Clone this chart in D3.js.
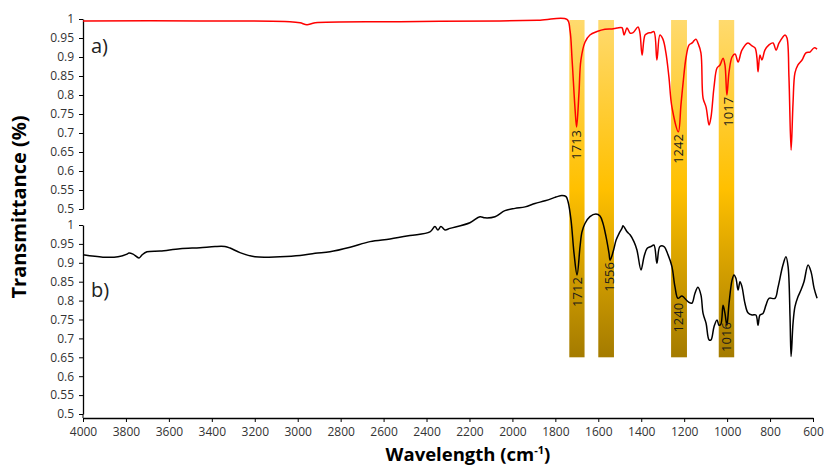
<!DOCTYPE html>
<html>
<head>
<meta charset="utf-8">
<script src="https://cdn.jsdelivr.net/npm/d3@7"></script>
<style>
  body { margin: 0; background: #fff; }
  svg { display: block; }
  .tick text { font-family: "Open Sans", sans-serif; font-size: 12px; fill: #333; }
</style>
</head>
<body>
<svg id="chart" width="826" height="472"></svg>
<script>
// spectrum a) (red) - wavenumber (cm-1) and transmittance
const wnA = [4000,3455,3036,2989,2957,2919,2524,2058,1871,1746,1732,1722,1708,1701,1690,1681,1662,1639,1606,1569,1536,1513,1490,1480,1466,1452,1438,1415,1406,1396,1382,1368,1355,1341,1327,1313,1299,1285,1271,1257,1227,1215,1205,1191,1177,1163,1154,1145,1136,1122,1112,1098,1084,1075,1061,1047,1033,1019,1010,1001,991,977,963,949,931,903,884,870,861,856,847,838,824,805,786,772,758,730,721,712,702,693,684,670,651,633,614,595,581];
const tA = [0.995,0.995,0.993,0.99,0.985,0.99,0.993,0.995,0.997,0.999,0.971,0.892,0.761,0.716,0.805,0.892,0.939,0.958,0.967,0.973,0.974,0.976,0.977,0.958,0.976,0.963,0.964,0.979,0.963,0.905,0.958,0.963,0.964,0.967,0.892,0.958,0.947,0.911,0.847,0.768,0.703,0.774,0.832,0.9,0.932,0.937,0.943,0.947,0.937,0.911,0.792,0.768,0.721,0.742,0.821,0.871,0.879,0.897,0.879,0.8,0.861,0.9,0.908,0.887,0.918,0.937,0.929,0.924,0.897,0.861,0.905,0.892,0.918,0.932,0.937,0.918,0.937,0.958,0.95,0.847,0.655,0.779,0.858,0.879,0.892,0.911,0.913,0.924,0.921];

// spectrum b) (black)
const wnB = [4000,3907,3837,3795,3786,3767,3739,3725,3702,3641,3548,3455,3385,3339,3315,3269,3199,3083,2989,2919,2850,2756,2663,2570,2477,2384,2361,2347,2333,2314,2291,2198,2151,2128,2081,2035,1988,1941,1895,1848,1802,1792,1769,1750,1741,1727,1713,1699,1685,1676,1662,1639,1611,1592,1578,1564,1550,1545,1531,1517,1503,1490,1485,1466,1452,1434,1420,1401,1387,1373,1355,1341,1327,1313,1294,1275,1257,1243,1229,1210,1182,1164,1150,1136,1122,1112,1098,1084,1075,1061,1047,1038,1029,1019,1010,1001,991,977,968,959,949,940,931,917,903,884,866,856,847,833,819,805,777,763,740,726,716,707,702,693,684,670,656,642,623,609,595,581];
const tB = [0.921,0.915,0.916,0.923,0.926,0.923,0.913,0.921,0.929,0.931,0.937,0.94,0.943,0.943,0.939,0.927,0.916,0.916,0.919,0.925,0.929,0.941,0.956,0.963,0.972,0.982,0.996,0.987,0.996,0.987,0.991,1.006,1.022,1.019,1.022,1.038,1.044,1.048,1.057,1.064,1.073,1.075,1.078,1.075,1.062,1.013,0.925,0.868,0.943,0.982,1.004,1.022,1.029,1.024,1.004,0.969,0.925,0.907,0.929,0.96,0.978,0.991,0.998,0.982,0.974,0.956,0.934,0.881,0.916,0.938,0.943,0.947,0.899,0.943,0.943,0.921,0.89,0.837,0.806,0.812,0.797,0.793,0.819,0.835,0.815,0.766,0.74,0.696,0.696,0.731,0.749,0.735,0.738,0.788,0.766,0.735,0.793,0.854,0.868,0.859,0.828,0.85,0.837,0.793,0.768,0.762,0.762,0.735,0.762,0.766,0.788,0.806,0.806,0.835,0.894,0.916,0.89,0.757,0.652,0.74,0.784,0.81,0.828,0.85,0.894,0.876,0.833,0.806];

// highlighted bands [from, to] in cm-1
const bands = [[1735,1664],[1600,1527],[1261,1187],[1039,967]];

// peak labels: text, wavenumber, transmittance where the label starts
const peaksA = ["1713","1242","1017"];
const peaksAWn = [1704,1229,996];
const peaksAT = [0.708,0.697,0.795];
const peaksB = ["1712","1556","1240","1016"];
const peaksBWn = [1695,1546,1229,1001];
const peaksBT = [0.862,0.902,0.794,0.743];

const xTicks = d3.range(4000, 599, -200);
const yTicks = d3.range(0.5, 1.001, 0.05);

const svg = d3.select("#chart");

const x = d3.scaleLinear().domain([4000, 600]).range([83, 813]);
const yTop = d3.scaleLinear().domain([0.5, 1]).range([209, 19]);
const yBot = d3.scaleLinear().domain([0.5, 1]).range([414, 225]);

/* BAND GRADIENT */
const defs = svg.append("defs");
const grad = defs.append("linearGradient")
  .attr("id", "bandGrad")
  .attr("x1", 0).attr("y1", 0).attr("x2", 0).attr("y2", 1);
grad.append("stop").attr("offset", "0%").attr("stop-color", "#ffda6e");
grad.append("stop").attr("offset", "50%").attr("stop-color", "#ffc000");
grad.append("stop").attr("offset", "100%").attr("stop-color", "#a47b00");

svg.append("g").selectAll("rect")
  .data(bands)
  .join("rect")
  .attr("x", d => x(d[0]))
  .attr("width", d => x(d[1]) - x(d[0]))
  .attr("y", yTop(1) + 1)
  .attr("height", yBot(0.65) - yTop(1) - 1)
  .attr("fill", "url(#bandGrad)");

/* AXES */
svg.append("g")
  .attr("transform", "translate(83,0)")
  .call(d3.axisLeft(yTop).tickValues(yTicks).tickFormat(d3.format("~g")).tickSize(4).tickSizeOuter(0).tickPadding(5));

svg.append("g")
  .attr("transform", "translate(83,0)")
  .call(d3.axisLeft(yBot).tickValues(yTicks).tickFormat(d3.format("~g")).tickSize(4).tickSizeOuter(0).tickPadding(5));

svg.append("line")
  .attr("x1", 83).attr("x2", 83)
  .attr("y1", yBot(0.5)).attr("y2", 418)
  .attr("stroke", "#000");

svg.append("g")
  .attr("transform", "translate(0,418)")
  .call(d3.axisBottom(x).tickValues(xTicks).tickFormat(d3.format("d")).tickSize(4).tickSizeOuter(0).tickPadding(5));

svg.selectAll(".domain").attr("stroke", "#000").attr("stroke-width", 1.3);
svg.selectAll(".tick line").attr("stroke", "#000");

/* SPECTRA */
const lineA = d3.line().x((d, i) => x(wnA[i])).y(d => yTop(d)).curve(d3.curveCatmullRom.alpha(0.5));
const lineB = d3.line().x((d, i) => x(wnB[i])).y(d => yBot(d)).curve(d3.curveCatmullRom.alpha(0.5));

svg.append("path")
  .attr("d", lineA(tA))
  .attr("fill", "none")
  .attr("stroke", "#ff0000")
  .attr("stroke-width", 1.5)
  .attr("stroke-linejoin", "round");

svg.append("path")
  .attr("d", lineB(tB))
  .attr("fill", "none")
  .attr("stroke", "#000")
  .attr("stroke-width", 1.5)
  .attr("stroke-linejoin", "round");

/* PEAK LABELS */
function peakLabel(txt, wn, t, yScale) {
  svg.append("text")
    .attr("transform", `translate(${x(wn)},${yScale(t)}) rotate(-90)`)
    .attr("text-anchor", "end")
    .attr("dy", "0.35em")
    .attr("font-family", "Open Sans, sans-serif")
    .attr("font-size", "13px")
    .attr("fill", "#1a1a1a")
    .text(txt);
}
peaksA.forEach((p, i) => peakLabel(p, peaksAWn[i], peaksAT[i], yTop));
peaksB.forEach((p, i) => peakLabel(p, peaksBWn[i], peaksBT[i], yBot));

/* PANEL LABELS */
svg.append("text")
  .attr("x", 91).attr("y", 53)
  .attr("font-family", "Open Sans, sans-serif")
  .attr("font-size", "20px")
  .attr("fill", "#222")
  .text("a)");

svg.append("text")
  .attr("x", 91).attr("y", 297)
  .attr("font-family", "Open Sans, sans-serif")
  .attr("font-size", "20px")
  .attr("fill", "#222")
  .text("b)");

/* TITLES */
svg.append("text")
  .attr("transform", "translate(26,207) rotate(-90)")
  .attr("text-anchor", "middle")
  .attr("font-family", "Open Sans, sans-serif")
  .attr("font-size", "20px")
  .attr("font-weight", "bold")
  .attr("fill", "#000")
  .text("Transmittance (%)");

const xt = svg.append("text")
  .attr("x", 468).attr("y", 461)
  .attr("text-anchor", "middle")
  .attr("font-family", "Open Sans, sans-serif")
  .attr("font-size", "18.5px")
  .attr("font-weight", "bold")
  .attr("fill", "#000");
xt.append("tspan").text("Wavelength (cm");
xt.append("tspan").attr("font-size", "11px").attr("dy", "-7").text("-1");
xt.append("tspan").attr("dy", "7").text(")");
</script>
</body>
</html>
